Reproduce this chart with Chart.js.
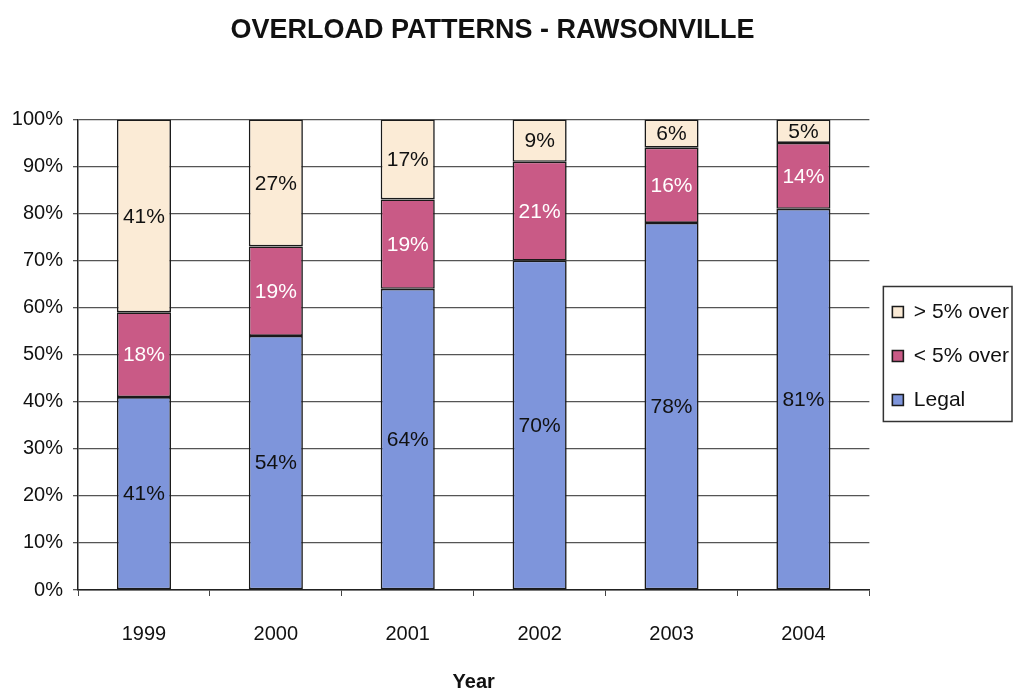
<!DOCTYPE html>
<html>
<head>
<meta charset="utf-8">
<script src="https://cdn.jsdelivr.net/npm/chart.js@4/dist/chart.umd.min.js"></script>
<style>
  html, body { margin: 0; padding: 0; background: #fff; }
  #wrap { width: 1015px; height: 695px; }
</style>
</head>
<body>
<div id="wrap"><canvas id="chart" width="1015" height="695"></canvas></div>
<script>
const years = ["1999", "2000", "2001", "2002", "2003", "2004"];
const legal = [41, 54, 64, 70, 78, 81];
const under5 = [18, 19, 19, 21, 16, 14];
const over5 = [41, 27, 17, 9, 6, 5];

const FONT = "'Liberation Sans', Arial, sans-serif";

// percentage text in the middle of each stacked segment
const segmentLabels = {
  id: "segmentLabels",
  afterDatasetsDraw(chart) {
    const ctx = chart.ctx;
    ctx.save();
    ctx.font = "21px " + FONT;
    ctx.textAlign = "center";
    ctx.textBaseline = "middle";
    chart.data.datasets.forEach((ds, i) => {
      const meta = chart.getDatasetMeta(i);
      meta.data.forEach((bar, j) => {
        const y = (bar.y + bar.base) / 2;
        ctx.fillStyle = ds.labelColor;
        ctx.fillText(ds.data[j] + "%", bar.x, y + 1);
      });
    });
    ctx.restore();
  }
};

// frame around the legend
const legendFrame = {
  id: "legendFrame",
  afterDraw(chart) {
    const boxes = chart.legend.legendHitBoxes;
    if (!boxes || !boxes.length) return;
    const ctx = chart.ctx;
    const top = boxes[0].top - 15;
    const last = boxes[boxes.length - 1];
    const bottom = last.top + last.height + 11;
    const left = chart.chartArea.right + 14;
    const right = 1012;
    ctx.save();
    ctx.strokeStyle = "#333";
    ctx.lineWidth = 1.5;
    ctx.strokeRect(left, top, right - left, bottom - top);
    ctx.restore();
  }
};

new Chart(document.getElementById("chart"), {
  type: "bar",
  data: {
    labels: years,
    datasets: [
      { label: "Legal", data: legal, backgroundColor: "#7e95db", labelColor: "#111" },
      { label: "< 5% over", data: under5, backgroundColor: "#c95a86", labelColor: "#fff" },
      { label: "> 5% over", data: over5, backgroundColor: "#fbebd6", labelColor: "#111" }
    ].map(d => Object.assign(d, {
      borderColor: "#1a1a1a",
      borderWidth: 1.6,
      borderSkipped: false,
      barPercentage: 0.41,
      categoryPercentage: 1
    }))
  },
  plugins: [segmentLabels, legendFrame],
  options: {
    responsive: false,
    animation: false,
    // the legend runs a little past the right edge; the left side is
    // shifted to keep the title centred over the plot
    layout: { padding: { left: -34, right: -4, top: 0, bottom: 1 } },
    plugins: {
      title: {
        display: true,
        text: "OVERLOAD PATTERNS - RAWSONVILLE",
        color: "#111",
        font: { family: FONT, size: 27, weight: "bold" },
        padding: { top: 14, bottom: 73 }
      },
      legend: {
        position: "right",
        reverse: true,
        // blank title only nudges the items down a bit
        title: { display: true, text: " ", font: { size: 10 }, padding: 3 },
        labels: {
          color: "#111",
          font: { family: FONT, size: 21 },
          boxWidth: 11,
          boxHeight: 11,
          padding: 23
        }
      },
      tooltip: { enabled: false }
    },
    scales: {
      x: {
        stacked: true,
        offset: true,
        grid: { display: true, drawOnChartArea: false, offset: true, color: "#444", tickLength: 6 },
        border: { color: "#222", width: 1.5 },
        ticks: { color: "#111", font: { family: FONT, size: 20 }, padding: 26 },
        title: {
          display: true,
          text: "Year",
          color: "#111",
          font: { family: FONT, size: 20, weight: "bold" },
          padding: { top: 10, bottom: 0 }
        },
        afterFit(scale) { scale.height = 104; }
      },
      y: {
        stacked: true,
        min: 0,
        max: 100,
        ticks: {
          stepSize: 10,
          color: "#111",
          font: { family: FONT, size: 20 },
          padding: 10,
          callback: v => v + "%"
        },
        grid: { color: "#555", lineWidth: 1.3, tickLength: 5 },
        border: { color: "#222", width: 1.5 },
        afterFit(scale) { scale.width = 112; }
      }
    }
  }
});
</script>
</body>
</html>
